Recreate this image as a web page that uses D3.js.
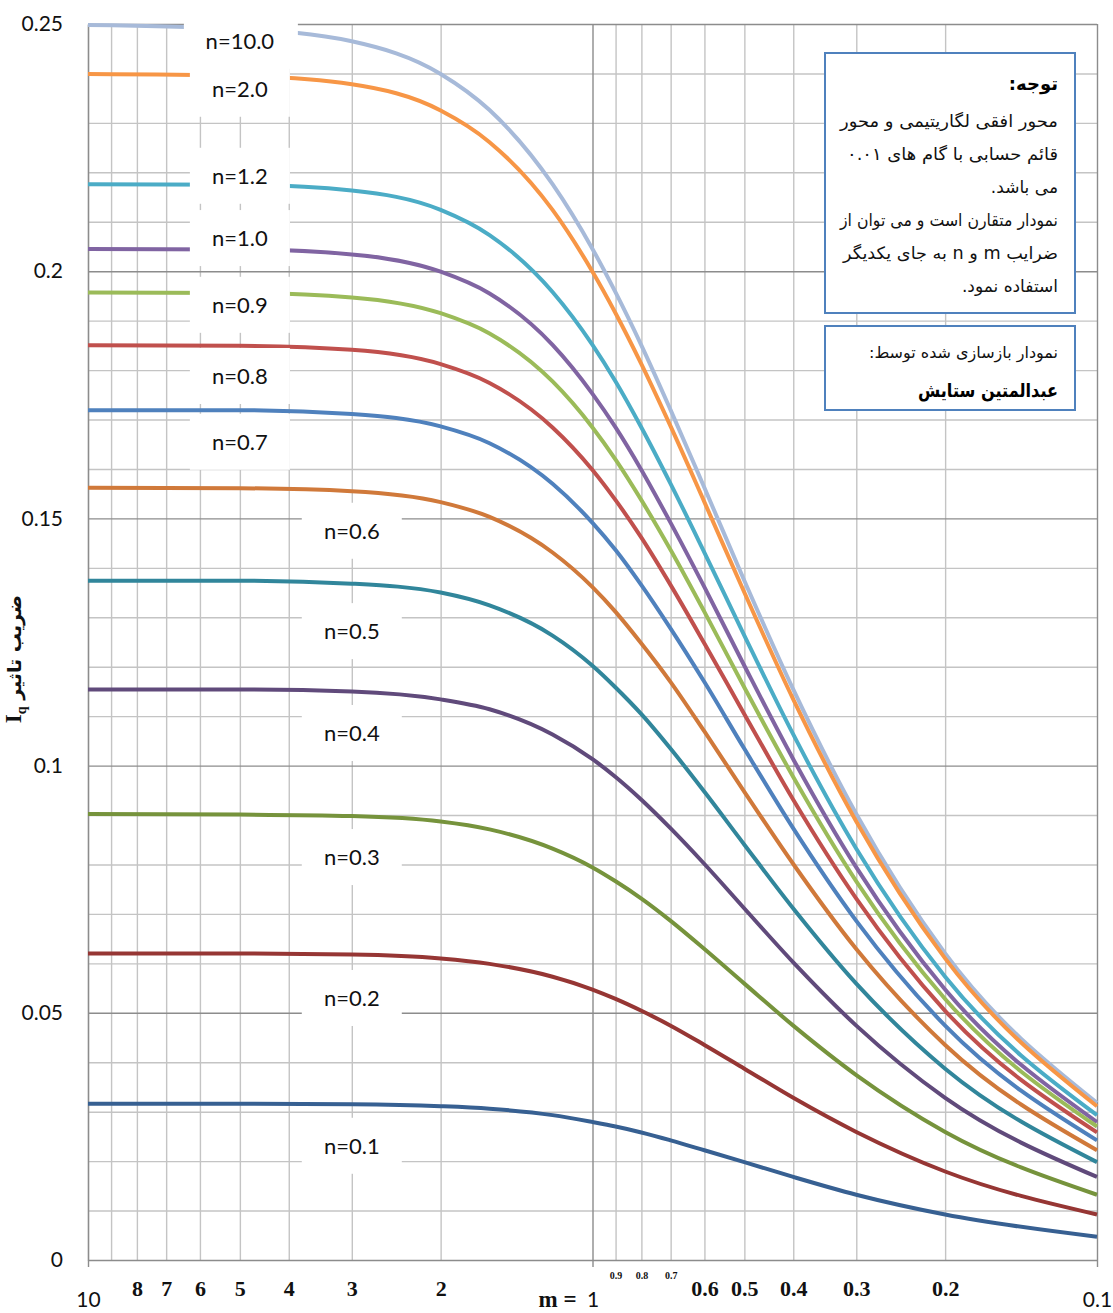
<!DOCTYPE html>
<html>
<head>
<meta charset="utf-8">
<script src="https://cdn.jsdelivr.net/npm/d3@7"></script>
<style>
  body { margin: 0; background: #fff; }
</style>
</head>
<body>
<div id="chart"></div>
<script>
const mValues = [10, 5, 3, 2, 1.6, 1.2, 1.0, 0.9, 0.8, 0.7, 0.6, 0.5, 0.4, 0.3, 0.2, 0.1];

// Iq, one array per n curve
const iqN100 = [0.2498, 0.2490, 0.2465, 0.2399, 0.2326, 0.2176, 0.2045, 0.1957, 0.1850, 0.1719, 0.1562, 0.1374, 0.1154, 0.0902, 0.0620, 0.0318];
const iqN20  = [0.2399, 0.2395, 0.2378, 0.2325, 0.2261, 0.2124, 0.1999, 0.1915, 0.1812, 0.1686, 0.1533, 0.1350, 0.1134, 0.0887, 0.0610, 0.0311];
const iqN12  = [0.2176, 0.2175, 0.2163, 0.2124, 0.2073, 0.1958, 0.1851, 0.1777, 0.1684, 0.1570, 0.1431, 0.1263, 0.1063, 0.0832, 0.0573, 0.0293];
const iqN10  = [0.2045, 0.2044, 0.2034, 0.1999, 0.1955, 0.1851, 0.1752, 0.1684, 0.1598, 0.1491, 0.1361, 0.1202, 0.1013, 0.0794, 0.0547, 0.0279];
const iqN09  = [0.1957, 0.1956, 0.1947, 0.1915, 0.1874, 0.1777, 0.1684, 0.1619, 0.1537, 0.1436, 0.1311, 0.1158, 0.0977, 0.0766, 0.0528, 0.0270];
const iqN08  = [0.1850, 0.1849, 0.1841, 0.1812, 0.1774, 0.1684, 0.1598, 0.1537, 0.1461, 0.1365, 0.1247, 0.1104, 0.0931, 0.0731, 0.0504, 0.0258];
const iqN07  = [0.1719, 0.1719, 0.1711, 0.1686, 0.1652, 0.1570, 0.1491, 0.1436, 0.1365, 0.1277, 0.1169, 0.1034, 0.0873, 0.0686, 0.0474, 0.0242];
const iqN06  = [0.1562, 0.1561, 0.1555, 0.1533, 0.1503, 0.1431, 0.1361, 0.1311, 0.1247, 0.1169, 0.1069, 0.0947, 0.0801, 0.0629, 0.0435, 0.0222];
const iqN05  = [0.1374, 0.1374, 0.1368, 0.1350, 0.1324, 0.1263, 0.1202, 0.1158, 0.1104, 0.1034, 0.0947, 0.0840, 0.0711, 0.0559, 0.0387, 0.0198];
const iqN04  = [0.1154, 0.1154, 0.1150, 0.1134, 0.1114, 0.1063, 0.1013, 0.0977, 0.0931, 0.0873, 0.0801, 0.0711, 0.0602, 0.0474, 0.0328, 0.0168];
const iqN03  = [0.0902, 0.0901, 0.0898, 0.0887, 0.0871, 0.0832, 0.0794, 0.0766, 0.0731, 0.0686, 0.0629, 0.0559, 0.0474, 0.0374, 0.0259, 0.0132];
const iqN02  = [0.0620, 0.0620, 0.0618, 0.0610, 0.0599, 0.0573, 0.0547, 0.0528, 0.0504, 0.0474, 0.0435, 0.0387, 0.0328, 0.0259, 0.0179, 0.0092];
const iqN01  = [0.0316, 0.0316, 0.0315, 0.0311, 0.0306, 0.0293, 0.0279, 0.0270, 0.0258, 0.0242, 0.0222, 0.0198, 0.0168, 0.0132, 0.0092, 0.0047];

const nLabels = ["n=10.0", "n=2.0", "n=1.2", "n=1.0", "n=0.9", "n=0.8", "n=0.7", "n=0.6", "n=0.5", "n=0.4", "n=0.3", "n=0.2", "n=0.1"];
// where each curve's label sits, in chart units (m, Iq)
const labelM  = [5, 5, 5, 5, 5, 5, 5, 3, 3, 3, 3, 3, 3];
const labelIq = [0.2466, 0.2369, 0.2193, 0.2067, 0.1932, 0.1788, 0.1655, 0.1475, 0.1272, 0.1066, 0.0815, 0.0530, 0.0231];

const colors = ["#a7bad9", "#f79646", "#4bacc6", "#8064a2", "#9bbb59", "#c0504d", "#4f81bd",
                "#d0793a", "#31869b", "#604a7b", "#76933c", "#963634", "#376092"];

// ticks
const yTickValues = [0, 0.05, 0.1, 0.15, 0.2, 0.25];
const yTickLabels = ["0", "0.05", "0.1", "0.15", "0.2", "0.25"];
const xMajor = [10, 1, 0.1];
const xMajorLabels = ["10", "1", "0.1"];
const xBold = [8, 7, 6, 5, 4, 3, 2, 0.6, 0.5, 0.4, 0.3, 0.2];
const xSmall = [0.9, 0.8, 0.7];
const xMinorGrid = [9, 8, 7, 6, 5, 4, 3, 2, 0.9, 0.8, 0.7, 0.6, 0.5, 0.4, 0.3, 0.2];
const yMinorGrid = [0.01, 0.02, 0.03, 0.04, 0.06, 0.07, 0.08, 0.09, 0.11, 0.12, 0.13, 0.14,
                    0.16, 0.17, 0.18, 0.19, 0.21, 0.22, 0.23, 0.24];

const width = 1113, height = 1313;
const plotLeft = 88, plotRight = 1097, plotTop = 24, plotBottom = 1260;

const x = d3.scaleLog().domain([10, 0.1]).range([plotLeft, plotRight]);
const y = d3.scaleLinear().domain([0, 0.25]).range([plotBottom, plotTop]);

const svg = d3.select("#chart").append("svg")
    .attr("width", width)
    .attr("height", height)
    .style("font-family", "Lato, 'DejaVu Sans', sans-serif");

// gridlines
const gMinorY = svg.append("g")
    .attr("transform", `translate(${plotLeft},0)`)
    .call(d3.axisLeft(y).tickValues(yMinorGrid).tickSize(-(plotRight - plotLeft)).tickFormat(""));
const gMinorX = svg.append("g")
    .attr("transform", `translate(0,${plotBottom})`)
    .call(d3.axisBottom(x).tickValues(xMinorGrid).tickSize(-(plotBottom - plotTop)).tickFormat(""));
[gMinorY, gMinorX].forEach(g => {
    g.select(".domain").remove();
    g.selectAll("line").attr("stroke", "#c4c4c4").attr("stroke-width", 1.4);
});

const gMajorY = svg.append("g")
    .attr("transform", `translate(${plotLeft},0)`)
    .call(d3.axisLeft(y).tickValues(yTickValues.slice(1)).tickSize(-(plotRight - plotLeft)).tickFormat(""));
const gMajorX = svg.append("g")
    .attr("transform", `translate(0,${plotBottom})`)
    .call(d3.axisBottom(x).tickValues([1, 0.1]).tickSize(-(plotBottom - plotTop)).tickFormat(""));
[gMajorY, gMajorX].forEach(g => {
    g.select(".domain").remove();
    g.selectAll("line").attr("stroke", "#8c8c8c").attr("stroke-width", 1.4);
});

// axis lines with small outward ticks
const xAxis = svg.append("g")
    .attr("transform", `translate(0,${plotBottom})`)
    .call(d3.axisBottom(x).tickValues(xMajor).tickSize(7).tickSizeOuter(0).tickFormat(""));
xAxis.select(".domain").attr("stroke", "#8c8c8c").attr("stroke-width", 1.6);
xAxis.selectAll("line").attr("stroke", "#8c8c8c").attr("stroke-width", 1.4);

const yAxis = svg.append("g")
    .attr("transform", `translate(${plotLeft},0)`)
    .call(d3.axisLeft(y).tickValues(yTickValues).tickSize(0).tickPadding(25)
        .tickFormat((d, i) => yTickLabels[i]));
yAxis.select(".domain").attr("stroke", "#8c8c8c").attr("stroke-width", 1.6);
yAxis.selectAll("text").attr("font-family", "Lato").attr("font-size", 21).attr("fill", "#111");

// x labels: three styles as in the original
const xLab1 = svg.append("g")
    .attr("transform", `translate(0,${plotBottom})`)
    .call(d3.axisBottom(x).tickValues(xMajor).tickSize(0).tickPadding(32)
        .tickFormat((d, i) => xMajorLabels[i]));
xLab1.select(".domain").remove();
xLab1.selectAll("text").attr("font-family", "Lato").attr("font-size", 21).attr("fill", "#111");

const xLab2 = svg.append("g")
    .attr("transform", `translate(0,${plotBottom})`)
    .call(d3.axisBottom(x).tickValues(xBold).tickSize(0).tickPadding(20).tickFormat(d => String(d)));
xLab2.select(".domain").remove();
xLab2.selectAll("text").attr("font-family", "'Liberation Serif', serif")
    .attr("font-weight", "bold").attr("font-size", 22).attr("fill", "#111");

const xLab3 = svg.append("g")
    .attr("transform", `translate(0,${plotBottom})`)
    .call(d3.axisBottom(x).tickValues(xSmall).tickSize(0).tickPadding(12).tickFormat(d => String(d)));
xLab3.select(".domain").remove();
xLab3.selectAll("text").attr("font-family", "'Liberation Serif', serif")
    .attr("font-weight", "bold").attr("font-size", 10).attr("fill", "#111");

svg.append("text")
    .attr("x", x(1) - 16)
    .attr("y", 1307)
    .attr("text-anchor", "end")
    .attr("font-family", "'Liberation Serif', serif")
    .attr("font-weight", "bold")
    .attr("font-size", 23)
    .attr("fill", "#111")
    .text("m =");

// y title
const yTitle = svg.append("text")
    .attr("transform", "translate(21,659) rotate(-90)")
    .attr("text-anchor", "middle")
    .attr("font-weight", "bold")
    .attr("fill", "#111");
yTitle.append("tspan").attr("font-family", "'Liberation Serif', serif").attr("font-size", 23).text("I");
yTitle.append("tspan").attr("font-family", "'Liberation Serif', serif").attr("font-size", 14)
    .attr("dy", 5).text("q");
yTitle.append("tspan").attr("font-family", "'DejaVu Sans', sans-serif").attr("font-size", 19)
    .attr("dy", -5).text(" ضریب تاثیر");

// curves
const series = [iqN100, iqN20, iqN12, iqN10, iqN09, iqN08, iqN07, iqN06, iqN05, iqN04, iqN03, iqN02, iqN01];
const line = d3.line()
    .x((d, i) => x(mValues[i]))
    .y(d => y(d))
    .curve(d3.curveMonotoneX);

svg.append("g").selectAll("path")
    .data(series)
    .join("path")
    .attr("fill", "none")
    .attr("stroke", (d, i) => colors[i])
    .attr("stroke-width", 4)
    .attr("stroke-linejoin", "round")
    .attr("d", line);

// curve labels with white boxes
const labels = svg.append("g").selectAll("g")
    .data(nLabels)
    .join("g")
    .attr("transform", (d, i) => `translate(${x(labelM[i])},${y(labelIq[i])})`);
labels.append("rect")
    .attr("x", d => d.length > 5 ? -56 : -50)
    .attr("y", -28)
    .attr("width", d => d.length > 5 ? 114 : 100)
    .attr("height", 56)
    .attr("fill", "#fff");
labels.append("text")
    .attr("text-anchor", "middle")
    .attr("dy", "0.36em")
    .attr("font-family", "Lato")
    .attr("font-size", 22)
    .attr("fill", "#111")
    .text(d => d);

// note boxes
const noteLines = [
    "محور افقی لگاریتیمی و محور",
    "قائم حسابی با گام های ۰.۰۱",
    "می باشد.",
    "نمودار متقارن است و می توان از",
    "ضرایب m و n به جای یکدیگر",
    "استفاده نمود."
];
// justified line widths as in the original (0 = ragged)
const noteWidths = [218, 211, 0, 218, 215, 0];

const note = svg.append("g");
note.append("rect")
    .attr("x", 825).attr("y", 53).attr("width", 250).attr("height", 260)
    .attr("fill", "#fff").attr("stroke", "#4f81bd").attr("stroke-width", 2);
note.append("text")
    .attr("x", 1058).attr("y", 90)
    .attr("direction", "rtl").attr("text-anchor", "start")
    .attr("font-family", "'DejaVu Sans', sans-serif")
    .attr("font-weight", "bold").attr("font-size", 18).attr("fill", "#000")
    .text("توجه:");
note.selectAll("text.line")
    .data(noteLines)
    .join("text")
    .attr("class", "line")
    .attr("x", 1058)
    .attr("y", (d, i) => 127 + i * 33)
    .attr("direction", "rtl").attr("text-anchor", "start")
    .attr("font-family", "'DejaVu Sans', sans-serif")
    .attr("font-size", 17).attr("fill", "#111")
    .each(function(d, i) {
        if (noteWidths[i]) {
            d3.select(this).attr("textLength", noteWidths[i]).attr("lengthAdjust", "spacingAndGlyphs");
        }
    })
    .text(d => d);

const credit = svg.append("g");
credit.append("rect")
    .attr("x", 825).attr("y", 326).attr("width", 250).attr("height", 84)
    .attr("fill", "#fff").attr("stroke", "#4f81bd").attr("stroke-width", 2);
credit.append("text")
    .attr("x", 1058).attr("y", 358)
    .attr("direction", "rtl").attr("text-anchor", "start")
    .attr("font-family", "'DejaVu Sans', sans-serif")
    .attr("font-size", 16).attr("fill", "#111")
    .text("نمودار بازسازی شده توسط:");
credit.append("text")
    .attr("x", 1058).attr("y", 397)
    .attr("direction", "rtl").attr("text-anchor", "start")
    .attr("font-family", "'DejaVu Sans', sans-serif")
    .attr("font-weight", "bold").attr("font-size", 19).attr("fill", "#000")
    .attr("textLength", 140).attr("lengthAdjust", "spacingAndGlyphs")
    .text("عبدالمتین ستایش");
</script>
</body>
</html>
